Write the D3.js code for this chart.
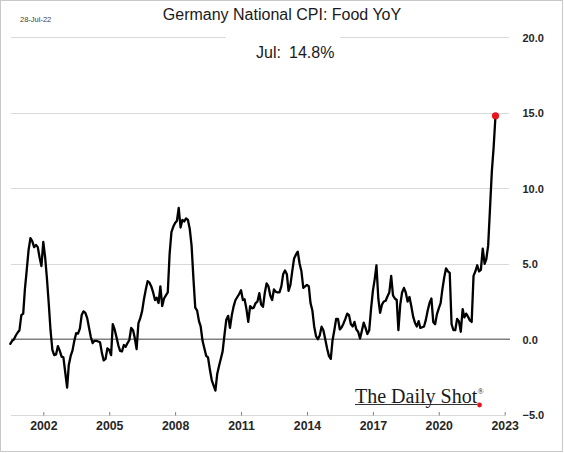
<!DOCTYPE html>
<html>
<head>
<meta charset="utf-8">
<script src="https://cdn.jsdelivr.net/npm/d3@7/dist/d3.min.js"></script>
<style>
  html, body { margin: 0; padding: 0; background: #fff; }
  svg { display: block; }
</style>
</head>
<body>
<div id="chart"></div>
<script>
// ---------------- DATA ----------------
const chartTitle = "Germany National CPI: Food YoY";
const dateStamp = "28-Jul-22";
const seriesStartYear = 2000;
const seriesStartMonth = 6; // June 2000 (1-based)
// Monthly food CPI YoY (%), Jun 2000 ... Jul 2022
const foodYoY = [
  -0.3, -0.1, 0.0, 0.25, 0.45, 0.6, 1.6,                                   // 2000 Jun-Dec
  1.7, 3.3, 4.6, 5.9, 6.7, 6.5, 6.1, 6.25, 6.1, 5.4, 4.85, 6.45,            // 2001
  5.4, 4.1, 2.4, 0.6, -0.7, -1.05, -1.0, -0.45, -0.75, -1.15, -1.2, -2.2,   // 2002
  -3.2, -1.7, -1.1, -0.75, -0.1, 0.4, 0.38, 0.7, 1.6, 1.85, 1.75, 1.4,     // 2003
  0.75, 0.15, -0.25, -0.1, -0.1, -0.15, -0.2, -0.9, -1.4, -1.3, -0.6, -0.7, // 2004
  -1.05, 1.0, 0.65, 0.15, -0.4, -0.77, -0.8, -0.38, -0.5, -0.25, -0.05, 0.75, // 2005
  0.6, 0.1, -0.65, 1.05, 1.4, 1.85, 2.65, 3.3, 3.85, 3.75, 3.5, 3.1,       // 2006
  2.6, 2.75, 2.4, 3.5, 2.2, 2.7, 2.9, 3.1, 5.6, 7.1, 7.45, 7.7,            // 2007
  7.85, 8.7, 7.4, 7.9, 7.8, 8.0, 7.9, 7.3, 6.2, 4.0, 2.1, 1.9,             // 2008
  1.2, 0.85, -0.1, -0.6, -1.1, -1.2, -2.0, -2.7, -3.05, -3.4, -2.3, -1.75, // 2009
  -1.25, -0.8, 0.3, 1.3, 1.55, 0.75, 1.6, 2.2, 2.6, 2.8, 3.0, 3.25,        // 2010
  2.6, 2.65, 2.0, 1.15, 2.2, 2.05, 2.1, 2.4, 2.5, 3.05, 2.3, 2.15,         // 2011
  3.1, 3.7, 3.5, 2.9, 2.6, 3.3, 3.15, 3.1, 3.1, 3.5, 4.3, 4.55,            // 2012
  4.3, 3.2, 3.6, 4.5, 5.35, 5.6, 5.8, 5.0, 4.5, 3.4, 3.5, 3.6,             // 2013
  3.5, 2.4, 1.9, 0.85, 0.2, 0.0, 0.25, 0.83, 0.6, 0.0, -0.6, -1.1,         // 2014
  -1.3, -0.1, 0.6, 1.35, 1.35, 0.65, 0.8, 1.05, 1.35, 1.7, 1.6, 1.0,       // 2015
  0.85, 1.15, 0.65, 0.5, 0.05, 0.55, 1.1, 0.75, 0.35, 0.6, 2.0, 3.2,       // 2016
  4.0, 4.9, 2.7, 1.75, 2.3, 2.5, 2.55, 2.85, 3.1, 4.2, 2.9, 2.7,           // 2017
  2.6, 0.6, 2.3, 3.1, 3.4, 3.1, 2.5, 2.8, 2.2, 1.5, 1.1, 0.85,             // 2018
  1.2, 0.75, 0.8, 0.85, 1.3, 1.9, 2.4, 2.7, 1.15, 1.0, 1.65, 2.05,         // 2019
  2.4, 3.3, 4.1, 4.7, 4.5, 4.4, 1.0, 0.6, 0.6, 1.35, 1.2, 0.5,             // 2020
  2.0, 1.45, 1.7, 1.5, 1.25, 1.15, 4.2, 4.5, 4.9, 4.5, 4.6, 6.0,           // 2021
  5.0, 5.3, 6.2, 8.6, 11.1, 12.7, 14.8                                     // 2022 Jan-Jul
];
const xTickYears = [2002, 2005, 2008, 2011, 2014, 2017, 2020, 2023];
const yTicks = [-5, 0, 5, 10, 15, 20];

// ---------------- CHART ----------------
const W = 564, H = 453;
const FONT = "'Liberation Sans', Arial, sans-serif";

const data = foodYoY.map((v, i) => {
  const m0 = seriesStartMonth - 1 + i;          // 0-based month index from Jan of start year
  const month = new Date(seriesStartYear, m0, 1);
  const pos = new Date(seriesStartYear, m0 + 1, 1); // plotted at month end
  return { month, date: pos, v };
});

const svg = d3.select("#chart").append("svg")
  .attr("width", W).attr("height", H)
  .style("font-family", FONT);

svg.append("rect").attr("x", 0).attr("y", 0).attr("width", W).attr("height", H).attr("fill", "#fff");

const x = d3.scaleTime()
  .domain([new Date(2002, 0, 1), new Date(2023, 0, 1)])
  .range([43.3, 504.7]);
const y = d3.scaleLinear().domain([-5, 20]).range([414.8, 37.2]);

const plotLeft = 11, plotRight = 509;

// gridlines
svg.append("g").selectAll("line")
  .data(yTicks.filter(t => t !== -5 && t !== 0))
  .join("line")
  .attr("x1", plotLeft).attr("x2", plotRight)
  .attr("y1", d => Math.round(y(d)) + 0.5).attr("y2", d => Math.round(y(d)) + 0.5)
  .attr("stroke", "#d9d9d9").attr("stroke-width", 1);

// annotation box (white, over gridline)
const last = data[data.length - 1];
svg.append("rect").attr("x", 226).attr("y", 28).attr("width", 114).attr("height", 36).attr("fill", "#fff");
svg.append("text").attr("x", 256).attr("y", 58).attr("font-size", 16).attr("fill", "#1a1a1a")
  .text(d3.timeFormat("%b")(last.month) + ":");
svg.append("text").attr("x", 289).attr("y", 58).attr("font-size", 16).attr("fill", "#1a1a1a")
  .text(last.v.toFixed(1) + "%");

// bottom axis line (-5)
svg.append("line").attr("x1", plotLeft).attr("x2", 505)
  .attr("y1", Math.round(y(-5)) + 0.5).attr("y2", Math.round(y(-5)) + 0.5)
  .attr("stroke", "#d9d9d9").attr("stroke-width", 1);

// x axis
const xAxis = d3.axisBottom(x)
  .tickValues(xTickYears.map(yr => new Date(yr, 0, 1)))
  .tickFormat(d3.timeFormat("%Y"))
  .tickSizeInner(0).tickSizeOuter(0);
const gx = svg.append("g").attr("transform", `translate(0,${Math.round(y(-5)) + 0.5})`).call(xAxis);
gx.select(".domain").remove();
gx.selectAll(".tick line").attr("y1", -3.5).attr("y2", 0).attr("stroke", "#7f7f7f").attr("stroke-width", 1);
gx.selectAll(".tick text").attr("y", 14.5).attr("dy", 0)
  .attr("font-size", 12.3).attr("font-weight", "bold").attr("fill", "#262626")
  .attr("font-family", FONT);

// zero line
svg.append("line").attr("x1", plotLeft).attr("x2", plotRight + 1)
  .attr("y1", y(0)).attr("y2", y(0))
  .attr("stroke", "#808080").attr("stroke-width", 1.5);

// y axis labels (right)
const yAxis = d3.axisRight(y).tickValues(yTicks).tickFormat(d3.format(".1f")).tickSize(0).tickPadding(0);
const gy = svg.append("g").attr("transform", "translate(522.5,0)").call(yAxis);
gy.select(".domain").remove();
gy.selectAll(".tick text").attr("font-size", 11).attr("font-weight", "bold").attr("fill", "#262626")
  .attr("font-family", FONT).attr("dy", "0.36em");

// data line
const line = d3.line().x(d => x(d.date)).y(d => y(d.v));
svg.append("path").datum(data).attr("d", line)
  .attr("fill", "none").attr("stroke", "#000").attr("stroke-width", 2.3)
  .attr("stroke-linejoin", "round").attr("stroke-linecap", "round");

// last point marker
svg.append("circle").attr("cx", x(last.date)).attr("cy", y(last.v)).attr("r", 3.6).attr("fill", "#e8151d");

// title & date stamp
svg.append("text").attr("x", 282).attr("y", 20).attr("text-anchor", "middle")
  .attr("font-size", 16).attr("fill", "#1a1a1a").text(chartTitle);
svg.append("text").attr("x", 20).attr("y", 22)
  .attr("font-size", 7.5).attr("fill", "#404040").text(dateStamp);

// logo
const logo = svg.append("g");
logo.append("line").attr("x1", 355).attr("x2", 477).attr("y1", 404.5).attr("y2", 404.5)
  .attr("stroke", "#333").attr("stroke-width", 1);
logo.append("text").attr("x", 355).attr("y", 402.5)
  .attr("font-family", "'Liberation Serif', 'Times New Roman', serif")
  .attr("font-size", 20).attr("fill", "#1a1a1a").text("The Daily Shot");
logo.append("text").attr("x", 477.5).attr("y", 394)
  .attr("font-family", "'Liberation Serif', 'Times New Roman', serif")
  .attr("font-size", 8).attr("fill", "#1a1a1a").text("®");
logo.append("circle").attr("cx", 479.5).attr("cy", 405).attr("r", 2.4).attr("fill", "#e8151d");

// outer border
svg.append("rect").attr("x", 0.5).attr("y", 0.5).attr("width", W - 2).attr("height", H - 2)
  .attr("fill", "none").attr("stroke", "#c8c8c8").attr("stroke-width", 1);
</script>
</body>
</html>
